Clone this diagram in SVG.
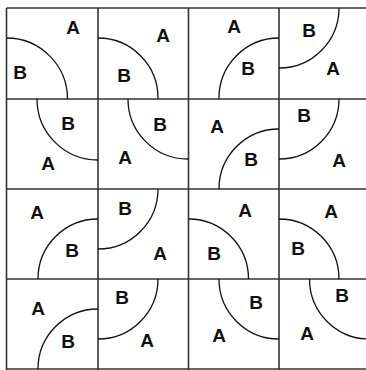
<svg xmlns="http://www.w3.org/2000/svg" width="366" height="370" viewBox="0 0 366 370">
<style>
.grid{stroke:#333;stroke-width:1.6;fill:none}
.arc{stroke:#111;stroke-width:1.3;fill:none}
text{font-family:"Liberation Sans",Arial,sans-serif;font-weight:bold;font-size:19px;fill:#111;text-anchor:middle;dominant-baseline:central}
</style>
<rect width="366" height="370" fill="#fff"/>
<g id="grid" class="grid">
<line x1="6.5" y1="8" x2="366" y2="8"/>
<line x1="6.5" y1="99" x2="366" y2="99"/>
<line x1="6.5" y1="189" x2="366" y2="189"/>
<line x1="6.5" y1="279" x2="366" y2="279"/>
<line x1="6.5" y1="369" x2="366" y2="369"/>
<line x1="6.5" y1="8" x2="6.5" y2="370"/>
<line x1="98" y1="8" x2="98" y2="370"/>
<line x1="188.5" y1="8" x2="188.5" y2="370"/>
<line x1="279" y1="8" x2="279" y2="370"/>
</g>
<g id="t00"><path class="arc" d="M6.5,38 A61,61 0 0 1 67.5,99"/><text x="73" y="27">A</text><text x="20" y="72">B</text></g>
<g id="t01"><path class="arc" d="M98,38 A60,60 0 0 1 158,99"/><text x="163" y="35">A</text><text x="124" y="75">B</text></g>
<g id="t02"><path class="arc" d="M279,38 A60,60 0 0 0 219,99"/><text x="234" y="26">A</text><text x="248" y="68">B</text></g>
<g id="t03"><path class="arc" d="M339,8 A60,60 0 0 1 279,68"/><text x="309" y="30">B</text><text x="333" y="68">A</text></g>
<g id="t10"><path class="arc" d="M37,99 A61,61 0 0 0 98,160"/><text x="68" y="123">B</text><text x="48" y="163">A</text></g>
<g id="t11"><path class="arc" d="M128,99 A60,60 0 0 0 188.5,159"/><text x="160" y="124">B</text><text x="125" y="157">A</text></g>
<g id="t12"><path class="arc" d="M279,129 A60,60 0 0 0 219,189"/><text x="217" y="126">A</text><text x="251" y="159">B</text></g>
<g id="t13"><path class="arc" d="M339,99 A60,60 0 0 1 279,159"/><text x="304" y="115">B</text><text x="339" y="160">A</text></g>
<g id="t20"><path class="arc" d="M98,219 A60,60 0 0 0 38,279"/><text x="37" y="212">A</text><text x="72" y="250">B</text></g>
<g id="t21"><path class="arc" d="M158,189 A60,60 0 0 1 98,249"/><text x="125" y="208">B</text><text x="160" y="253">A</text></g>
<g id="t22"><path class="arc" d="M188.5,219 A60,60 0 0 1 248.5,279"/><text x="245" y="210">A</text><text x="214" y="253">B</text></g>
<g id="t23"><path class="arc" d="M279,219 A60,60 0 0 1 339,279"/><text x="331" y="211">A</text><text x="298" y="248">B</text></g>
<g id="t30"><path class="arc" d="M98,309 A60,60 0 0 0 38,369"/><text x="38" y="308">A</text><text x="68" y="341">B</text></g>
<g id="t31"><path class="arc" d="M158,279 A60,60 0 0 1 98,339"/><text x="122" y="297">B</text><text x="147" y="340">A</text></g>
<g id="t32"><path class="arc" d="M219,279 A60,60 0 0 0 279,339"/><text x="256" y="302">B</text><text x="219" y="335">A</text></g>
<g id="t33"><path class="arc" d="M309.5,279 A60,60 0 0 0 369.5,339"/><text x="342" y="295">B</text><text x="307" y="333">A</text></g>
</svg>
